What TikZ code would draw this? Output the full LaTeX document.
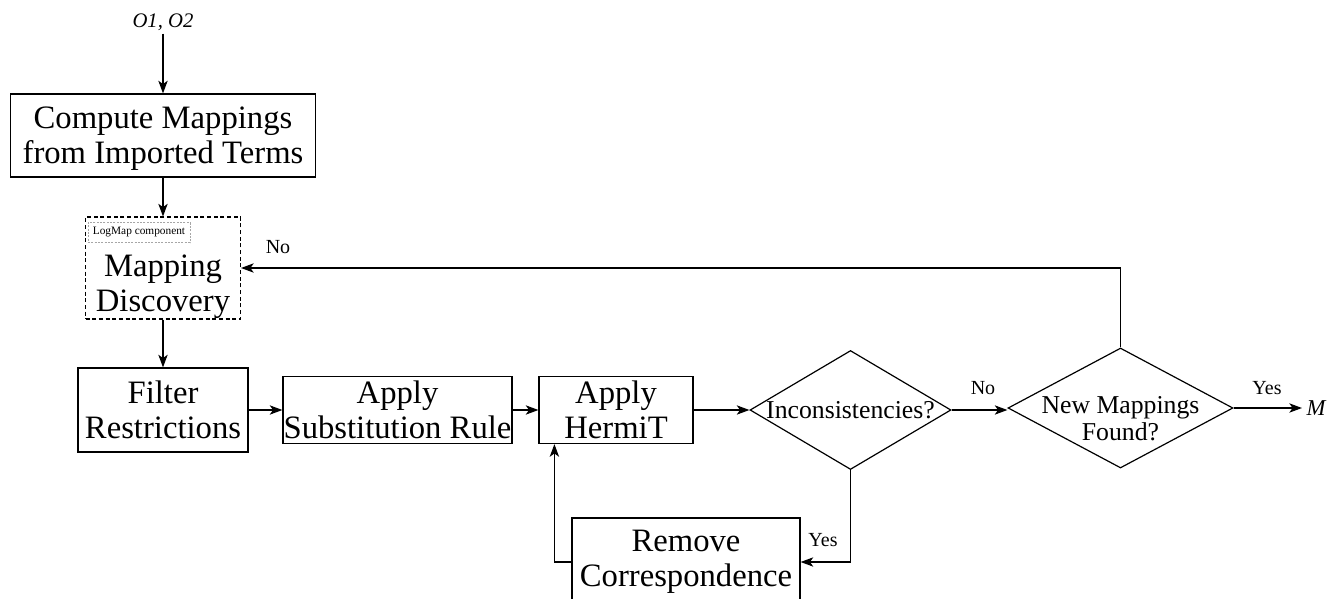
\documentclass[tikz,border=0pt]{standalone}
\usepackage{fontspec}
\setmainfont{Liberation Serif}
\usetikzlibrary{shapes.geometric,arrows.meta}

\begin{document}
\begin{tikzpicture}[x=0.75pt,y=-0.75pt,
  line width=0.9pt,
  arr/.style={-{Stealth[length=9.5pt,width=7pt,inset=2.5pt]}},
  procbox/.style={draw, rectangle, inner sep=0pt, align=center,
    font=\fontsize{24.5}{26.25}\selectfont},
  boxtext/.style={inner sep=0pt, align=center,
    font=\fontsize{24.5}{26.25}\selectfont},
  decision/.style={draw, diamond, inner sep=0pt},
  dtext/.style={inner sep=0pt, align=center,
    font=\fontsize{19.3}{20.25}\selectfont},
  lbl/.style={inner sep=1pt, font=\fontsize{15}{18}\selectfont},
  tag/.style={draw=black!35, line width=0.4pt, dash pattern=on 1.5pt off 1pt,
    inner sep=0pt, minimum width=76.5pt, minimum height=15pt,
    font=\fontsize{8.5}{10}\selectfont},
]
\useasboundingbox (0,0) rectangle (1341,599);

% input ontologies
\node[inner sep=2pt, font=\fontsize{15.5}{18}\selectfont\itshape] (in) at (163,22)
  {O1, O2};

% process boxes
\node[procbox, minimum width=228.75pt, minimum height=62.25pt, text depth=0pt]
  (comp) at (163,135.5) {Compute Mappings\\from Imported Terms};
\node[draw, dash pattern=on 3pt off 2pt, line width=0.8pt, inner sep=0pt,
  minimum width=116.25pt, minimum height=76.5pt] (md) at (163,268) {};
\node[boxtext] (mdt) at (163,287) {Mapping\\Discovery};
\node[tag] (lmc) at (139,232.5) {LogMap component};

\node[procbox, minimum width=127.5pt, minimum height=63pt]
  (filt) at (163,410) {Filter\\Restrictions};
\node[procbox, minimum width=171.75pt, minimum height=50.25pt]
  (sub) at (397.5,410) {Apply\\Substitution Rule};
\node[procbox, minimum width=115.5pt, minimum height=50.25pt]
  (herm) at (616,410) {Apply\\HermiT};
\node[procbox, minimum width=171pt, minimum height=66pt]
  (rem) at (686,562) {Remove\\Correspondence};

% decisions
\node[decision, minimum width=150.75pt, minimum height=89.25pt] (inc) at (850.5,410) {};
\node[dtext] (inct) at (850.5,410) {Inconsistencies?};
\node[decision, minimum width=168.75pt, minimum height=90pt] (nm) at (1120.5,408) {};
\node[dtext] (nmt) at (1120.5,419) {New Mappings\\Found?};

% output
\node[inner sep=3pt, font=\fontsize{17}{20}\selectfont\itshape] (out) at (1316,408) {M};

% connectors
\draw[arr] (in) -- (comp.north);
\draw[arr] (comp.south) -- (md.north);
\draw[arr] (md.south) -- (filt.north);
\draw[arr] (filt.east) -- (sub.west);
\draw[arr] (sub.east) -- (herm.west);
\draw[arr] (herm.east) -- (inc.west);
\draw[arr] (inc.east) -- (inc.east -| nm.west);
\draw[arr] (nm.east) -- (out.west);
\draw[arr] (inc.south) |- (rem.east);
\draw[arr] (rem.west) -| ([xshift=12pt]herm.south west);
\draw[arr] (nm.north) |- (md.east);

% branch labels
\node[lbl] (lno1) at (278,247) {No};
\node[lbl] (lno2) at (983,388) {No};
\node[lbl] (lyes1) at (1267,388) {Yes};
\node[lbl] (lyes2) at (823,540) {Yes};
\end{tikzpicture}
\end{document}
